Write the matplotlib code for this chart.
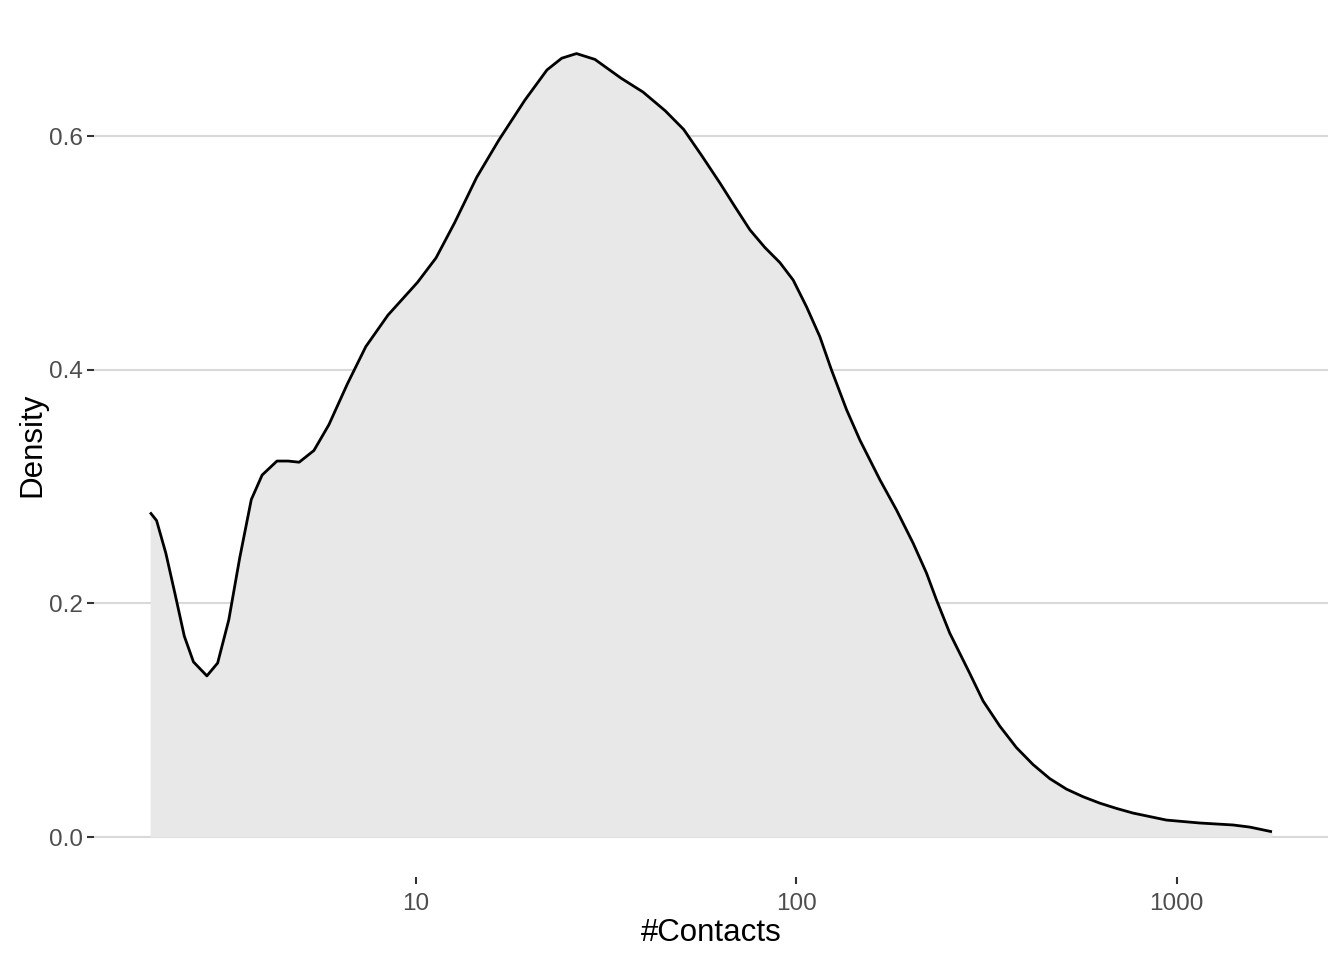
import numpy as np
import matplotlib
matplotlib.use("Agg")
import matplotlib.pyplot as plt

# density curve (x on a log10 axis)
contacts = [2.0, 2.08, 2.20, 2.33, 2.46, 2.60, 2.82, 3.01, 3.22, 3.44, 3.69,
            3.94, 4.31, 4.61, 4.93, 5.39, 5.90, 6.60, 7.38, 8.44, 10.09,
            11.29, 12.63, 14.44, 16.52, 19.32, 22.10, 24.16, 26.42, 29.54,
            34.58, 39.54, 45.21, 50.56, 56.55, 63.0, 68.9, 75.5, 82.6, 90.5,
            98.1, 106.4, 115.3, 123.7, 135.5, 146.9, 165.8, 183.4, 202.8,
            219.9, 233.6, 253.2, 285.8, 309.7, 342.6, 379.1, 419.2, 463.7,
            513.1, 567.2, 627.6, 694.1, 767.6, 939.5, 1149, 1406, 1556, 1780]
density = [0.278, 0.271, 0.243, 0.207, 0.172, 0.150, 0.138, 0.149, 0.186,
           0.239, 0.289, 0.310, 0.322, 0.322, 0.321, 0.331, 0.353, 0.388,
           0.420, 0.447, 0.475, 0.496, 0.526, 0.565, 0.597, 0.631, 0.657,
           0.667, 0.671, 0.666, 0.650, 0.638, 0.622, 0.606, 0.583, 0.560,
           0.540, 0.520, 0.505, 0.492, 0.477, 0.454, 0.4285, 0.400, 0.366,
           0.340, 0.306, 0.280, 0.2516, 0.226, 0.203, 0.1745, 0.140, 0.1165,
           0.095, 0.0765, 0.062, 0.050, 0.041, 0.0345, 0.029, 0.0245, 0.0205,
           0.0145, 0.012, 0.0103, 0.0085, 0.0045]

y_ticks = [0.0, 0.2, 0.4, 0.6]
x_ticks = [10, 100, 1000]
x_labels = ["10", "100", "1000"]

plt.rcParams['font.family'] = ['Liberation Sans', 'DejaVu Sans']

W, H = 1344, 960
fig = plt.figure(figsize=(W / 100, H / 100), dpi=100)
# panel in pixels: left 94, right 1328, top 12.7, bottom 876.7
ax = fig.add_axes([94 / W, 1 - 876.7 / H, (1328 - 94) / W, (876.7 - 12.7) / H])

ax.fill_between(contacts, density, 0, color='#e8e8e8', lw=0, zorder=2)
ax.plot(contacts, density, color='black', lw=2.0, zorder=3,
        solid_joinstyle='round', solid_capstyle='butt')

ax.set_xscale('log')
ax.set_xlim(10 ** 0.1535, 10 ** 3.3977)
ax.set_ylim(-0.034, 0.706)

ax.set_xticks(x_ticks)
ax.set_xticklabels(x_labels)
ax.xaxis.set_minor_locator(matplotlib.ticker.NullLocator())
ax.set_yticks(y_ticks)
ax.set_yticklabels([f"{v:.1f}" for v in y_ticks])

ax.grid(axis='y', color='#d9d9d9', lw=1.5, zorder=1)
ax.grid(axis='x', visible=False)
ax.set_axisbelow(True)
for s in ax.spines.values():
    s.set_visible(False)

ax.tick_params(axis='both', length=5, width=1.5, color='#333333',
               labelcolor='#4d4d4d', labelsize=17.5)
ax.tick_params(axis='x', pad=6.5)
ax.tick_params(axis='y', pad=3)

ax.set_xlabel('#Contacts', fontsize=22.5, color='black')
ax.set_ylabel('Density', fontsize=22.5, color='black')
ax.xaxis.set_label_coords(0.5, -0.048)
ax.yaxis.set_label_coords(-0.038, 0.5)

fig.savefig('out.png', dpi=100, facecolor='white')
